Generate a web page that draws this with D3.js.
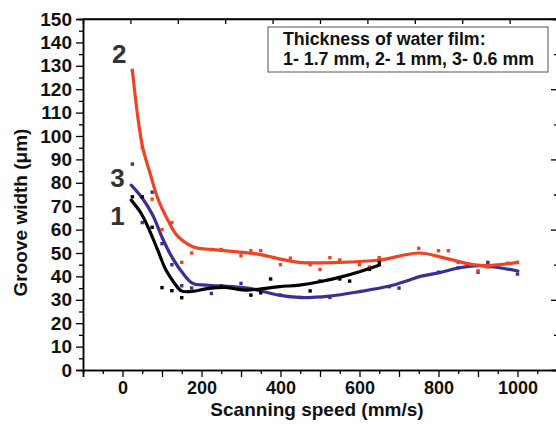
<!DOCTYPE html>
<html>
<head>
<meta charset="utf-8">
<script src="https://cdn.jsdelivr.net/npm/d3@7"></script>
<style>
  body { margin: 0; background: #fff; }
  text { font-family: "Liberation Sans", Arial, sans-serif; font-weight: bold; }
</style>
</head>
<body>
<div id="chart-area"></div>
<script>

// measured points, [speed mm/s, groove width um]
var pts1 = [[25,74],[50,74],[75,61],[100,35.2],[125,33.9],[150,30.9],[250,35.8],[325,32],
            [350,33],[375,38.9],[475,33.8],[500,38],[550,38.9],[575,38],[625,43],[650,46]];
var pts2 = [[25,128],[50,95],[75,73],[100,60],[125,63],[150,46],[175,50],[225,51.5],[250,51.5],
            [300,48.8],[325,51],[350,51],[400,45],[425,47.8],[475,45],[500,43],[525,48],[550,47],
            [600,45],[625,44],[650,48],[750,52],[800,51],[825,51],[850,46],[900,42.4],[925,44],
            [975,45.6],[1000,46]];
var pts3 = [[25,88],[50,63],[75,76],[100,54],[125,45],[150,36],[175,35],[225,32.7],[275,35.5],
            [300,37],[400,32],[450,31],[525,31],[675,35.6],[700,35],[800,41.8],[850,43.7],
            [900,41.8],[925,46],[1000,41]];

// smoothed curves
var fit1 = [[22,72.6],[47,67],[68,59.8],[89,51.3],[110,42.7],[132,37],[149,33.8],[170,33.5],
            [220,34.9],[262,35.3],[305,34.2],[343,34.5],[397,35.6],[448,36.3],[499,37.7],
            [549,39.6],[600,42],[651,44.9]];
var fit2 = [[25,128],[50,96],[70,84],[90,73],[115,64],[138,57.5],[178,52.7],[237,51.3],
            [338,49.6],[448,46],[550,46],[651,47],[752,50],[819,47.7],[887,45],[925,44.6],[1000,46]];
var fit3 = [[22,79],[50,73.5],[77,66],[102,56],[127,47.7],[153,41.3],[178,37],[212,36.3],
            [279,35.6],[321,34.9],[397,32],[448,31],[524,31.6],[600,33.5],[676,35.9],[727,38.5],
            [752,39.9],[803,41.6],[853,43.7],[904,44.6],[954,43.7],[1001,42.3]];

var seriesNames = ["1","2","3"];
var seriesColors = ["#000000","#ef4423","#3d2e96"];
var legendLines = ["Thickness of water film:", "1- 1.7 mm, 2- 1 mm, 3- 0.6 mm"];

var total_width = 556, total_height = 424;
var margin = {top:19, right:-1, bottom:54, left:83};
var width = total_width - margin.left - margin.right;
var height = total_height - margin.top - margin.bottom;

var svg = d3.select('#chart-area').append('svg')
            .attr("width",total_width)
            .attr("height",total_height);

var chart = svg.append('g')
               .attr("transform","translate("+margin.left+","+margin.top+")");

var x = d3.scaleLinear().domain([-100,1100]).range([0,width]);
var y = d3.scaleLinear().domain([0,150]).range([height,0]);

function styleAxis(size){
  return function(g){
    g.selectAll("path").attr("stroke","#000").attr("stroke-width",1.5);
    g.selectAll("line").attr("stroke","#000").attr("stroke-width",1.3);
    g.selectAll("text").attr("font-size",size+"px").attr("fill","#111")
     .attr("font-family","'Liberation Sans', Arial, sans-serif").attr("font-weight","bold");
  };
}

// left
chart.append('g').call(d3.axisLeft(y).tickValues(d3.range(5,150,10)).tickSize(4).tickFormat(""))
     .call(styleAxis(19));
chart.append('g').call(d3.axisLeft(y).tickValues(d3.range(0,151,10)).tickSize(7).tickPadding(4))
     .call(styleAxis(19));
// bottom
chart.append('g').attr("transform","translate(0,"+height+")")
     .call(d3.axisBottom(x).tickValues(d3.range(-50,1100,100)).tickSize(4).tickFormat(""))
     .call(styleAxis(18));
chart.append('g').attr("transform","translate(0,"+height+")")
     .call(d3.axisBottom(x).tickValues(d3.range(-100,1101,100)).tickSize(7).tickPadding(4)
       .tickFormat(function(d){ return (d>=0 && d<=1000 && d%200==0) ? d : ""; }))
     .call(styleAxis(18));
// top
chart.append('g').call(d3.axisBottom(x).tickValues(d3.range(20,1100,120)).tickSize(5).tickFormat(""))
     .call(styleAxis(18));
// right
chart.append('g').attr("transform","translate("+width+",0)")
     .call(d3.axisLeft(y).tickValues(d3.range(15,150,30)).tickSize(3).tickFormat(""))
     .call(styleAxis(18));
chart.append('g').attr("transform","translate("+width+",0)")
     .call(d3.axisLeft(y).tickValues(d3.range(30,150,30)).tickSize(6).tickFormat(""))
     .call(styleAxis(18));
chart.append('line').attr("x1",0).attr("x2",width).attr("y1",0).attr("y2",0)
     .attr("stroke","#000").attr("stroke-width",1.5);

var lineFunction = d3.line()
    .x(function(d){ return x(d[0]); })
    .y(function(d){ return y(d[1]); })
    .curve(d3.curveCatmullRom.alpha(0.5));

var fits = [fit1, fit2, fit3];
var pts = [pts1, pts2, pts3];

// draw order: blue, red, black on top
[2,1,0].forEach(function(i){
  chart.append('g').selectAll('rect').data(pts[i]).enter().append('rect')
       .attr("x", function(d){ return x(d[0])-1.7; })
       .attr("y", function(d){ return y(d[1])-1.7; })
       .attr("width",3.4).attr("height",3.4)
       .attr("fill", seriesColors[i]);
  chart.append('path').datum(fits[i])
       .attr("d", lineFunction)
       .attr("fill","none")
       .attr("stroke", seriesColors[i])
       .attr("stroke-width",3.2)
       .attr("stroke-linejoin","round")
       .attr("stroke-linecap","round");
});

// series number labels near the start of each curve
var labelAt = [[-13,62],[-8,131],[-13,78]];
chart.selectAll('.num').data(seriesNames).enter().append('text')
     .attr("class","num")
     .attr("x", function(d,i){ return x(labelAt[i][0]); })
     .attr("y", function(d,i){ return y(labelAt[i][1]); })
     .attr("text-anchor","middle")
     .attr("font-size","26px")
     .attr("fill","#333")
     .text(function(d){ return d; });

// legend box
var lg = svg.append('g').attr("transform","translate(268,27)");
lg.append('rect').attr("width",280).attr("height",45)
  .attr("fill","#fff").attr("stroke","#555").attr("stroke-width",1);
lg.selectAll('text').data(legendLines).enter().append('text')
  .attr("x",15).attr("y", function(d,i){ return 18 + i*20; })
  .attr("font-size","17.8px").attr("fill","#111")
  .text(function(d){ return d; });

// axis titles
svg.append('text')
   .attr("transform","translate(27,"+(margin.top+height/2+18)+") rotate(-90)")
   .attr("text-anchor","middle").attr("font-size","19px").attr("fill","#111")
   .text("Groove width (\u03bcm)");
svg.append('text')
   .attr("x", 317).attr("y", 416)
   .attr("text-anchor","middle").attr("font-size","19px").attr("fill","#111")
   .text("Scanning speed (mm/s)");

</script>
</body>
</html>
